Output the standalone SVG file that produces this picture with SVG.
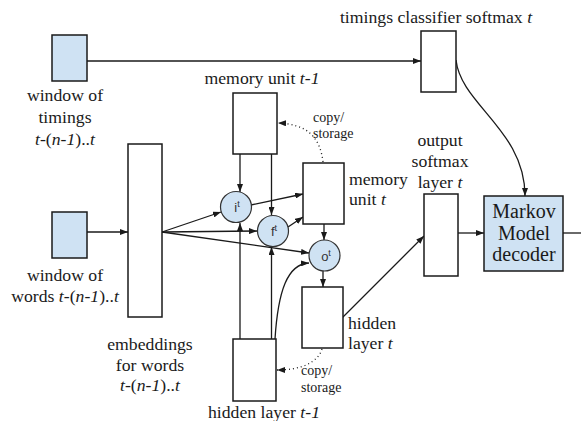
<svg xmlns="http://www.w3.org/2000/svg" width="581" height="421" viewBox="0 0 581 421">
  <style>
    .box { fill: #ffffff; stroke: #1a1a1a; stroke-width: 1.5; }
    .in { fill: #cfe2f3; stroke: #1a1a1a; stroke-width: 1.5; }
    .gate { fill: #cfe2f3; stroke: #333333; stroke-width: 1.2; }
    .lbl { font-family: "Liberation Serif", "Times New Roman", serif; font-size: 17.7px; fill: #1a1a1a; }
    .mid { text-anchor: middle; }
    .big { font-size: 20px; }
    .small { font-family: "Liberation Serif", "Times New Roman", serif; font-size: 14px; fill: #1a1a1a; }
    .g { font-family: "Liberation Sans", Arial, sans-serif; font-size: 13px; fill: #333333; text-anchor: middle; }
    .sup { font-size: 9px; }
    .it { font-style: italic; }
    .edge { fill: none; stroke: #1a1a1a; stroke-width: 1.3; }
    .arr { marker-end: url(#ah); }
    .dot { fill: none; stroke: #1a1a1a; stroke-width: 1.3; stroke-dasharray: 1 3; marker-end: url(#ah); }
  </style>
  <defs>
    <marker id="ah" markerUnits="userSpaceOnUse" markerWidth="8" markerHeight="6" refX="8" refY="3" orient="auto">
      <path d="M0,0 L8,3 L0,6 z" fill="#1a1a1a"/>
    </marker>
  </defs>

  <!-- connectors -->
  <g id="connectors">
    <path class="edge arr" d="M87,61 H421"/>
    <path class="edge arr" d="M456,60 C461,105 525,130 525,196"/>
    <path class="edge arr" d="M458,233 H484"/>
    <path class="edge" d="M563,233 H581"/>
    <path class="edge arr" d="M87,232 H128"/>
    <path class="edge arr" d="M162,232 L221,212"/>
    <path class="edge arr" d="M162,232 L257,231"/>
    <path class="edge arr" d="M162,232 L309,253"/>
    <path class="edge arr" d="M240,154 V192"/>
    <path class="edge arr" d="M271.5,154 V215"/>
    <path class="edge arr" d="M240,339 V223"/>
    <path class="edge arr" d="M271.5,339 V247"/>
    <path class="edge arr" d="M275,339 C278,292 287,264 309,263"/>
    <path class="edge arr" d="M251,205 L303,194"/>
    <path class="edge arr" d="M288,227 L303,217"/>
    <path class="edge arr" d="M324,224 V240"/>
    <path class="edge arr" d="M323,270 V287"/>
    <path class="edge arr" d="M342,318 L424,236"/>
    <path class="dot" d="M323,162 C320,136 306,124 278,123"/>
    <path class="dot" d="M322,349 C318,362 302,370 277,370"/>
  </g>

  <!-- timing input window -->
  <g id="timings-window">
    <rect class="in" x="52" y="35" width="35" height="46"/>
    <text class="lbl mid" x="65" y="101">window of</text>
    <text class="lbl mid" x="65" y="123">timings</text>
    <text class="lbl mid" x="65" y="145"><tspan class="it">t</tspan>-(<tspan class="it">n-1</tspan>)..<tspan class="it">t</tspan></text>
  </g>

  <!-- word input window -->
  <g id="words-window">
    <rect class="in" x="52" y="212" width="35" height="46"/>
    <text class="lbl mid" x="65" y="281">window of</text>
    <text class="lbl mid" x="65" y="302">words <tspan class="it">t</tspan>-(<tspan class="it">n-1</tspan>)..<tspan class="it">t</tspan></text>
  </g>

  <!-- embeddings -->
  <g id="embeddings">
    <rect class="box" x="128" y="144" width="34" height="173"/>
    <text class="lbl mid" x="150" y="350">embeddings</text>
    <text class="lbl mid" x="150" y="371">for words</text>
    <text class="lbl mid" x="150" y="391"><tspan class="it">t</tspan>-(<tspan class="it">n-1</tspan>)..<tspan class="it">t</tspan></text>
  </g>

  <!-- timings classifier -->
  <g id="timings-classifier">
    <rect class="box" x="421" y="31" width="35" height="61"/>
    <text class="lbl mid" x="436" y="23">timings classifier softmax <tspan class="it">t</tspan></text>
  </g>

  <!-- memory unit t-1 -->
  <g id="memory-prev">
    <rect class="box" x="233" y="93" width="44" height="61"/>
    <text class="lbl mid" x="262" y="84">memory unit <tspan class="it">t-1</tspan></text>
  </g>

  <g id="copy-memory">
    <text class="small" x="313" y="122">copy/</text>
    <text class="small" x="313" y="138">storage</text>
  </g>

  <!-- memory unit t -->
  <g id="memory-current">
    <rect class="box" x="303" y="163" width="41" height="61"/>
    <text class="lbl" x="349" y="185">memory</text>
    <text class="lbl" x="349" y="205">unit <tspan class="it">t</tspan></text>
  </g>

  <!-- gates -->
  <g id="gate-i">
    <circle class="gate" cx="236" cy="207" r="15.5"/>
    <text class="g" x="237" y="212">i<tspan class="sup" dy="-5">t</tspan></text>
  </g>
  <g id="gate-f">
    <circle class="gate" cx="273" cy="231" r="15.5"/>
    <text class="g" x="274" y="236">f<tspan class="sup" dy="-5">t</tspan></text>
  </g>
  <g id="gate-o">
    <circle class="gate" cx="324.5" cy="255.5" r="15.5"/>
    <text class="g" x="326" y="261">o<tspan class="sup" dy="-5">t</tspan></text>
  </g>

  <!-- hidden layer t -->
  <g id="hidden-current">
    <rect class="box" x="302" y="287" width="41" height="61"/>
    <text class="lbl" x="348" y="329">hidden</text>
    <text class="lbl" x="348" y="349">layer <tspan class="it">t</tspan></text>
  </g>

  <g id="copy-hidden">
    <text class="small" x="301" y="375">copy/</text>
    <text class="small" x="301" y="392">storage</text>
  </g>

  <!-- hidden layer t-1 -->
  <g id="hidden-prev">
    <rect class="box" x="233" y="339" width="43" height="62"/>
    <text class="lbl mid" x="264" y="418">hidden layer <tspan class="it">t-1</tspan></text>
  </g>

  <!-- output softmax -->
  <g id="output-softmax">
    <rect class="box" x="424" y="194" width="34" height="82"/>
    <text class="lbl mid" x="440" y="146">output</text>
    <text class="lbl mid" x="440" y="167">softmax</text>
    <text class="lbl mid" x="440" y="188">layer <tspan class="it">t</tspan></text>
  </g>

  <!-- decoder -->
  <g id="markov-decoder">
    <rect class="in" x="484" y="196" width="79" height="75"/>
    <text class="lbl big mid" x="524" y="218">Markov</text>
    <text class="lbl big mid" x="524" y="239.5">Model</text>
    <text class="lbl big mid" x="524" y="261">decoder</text>
  </g>
</svg>
